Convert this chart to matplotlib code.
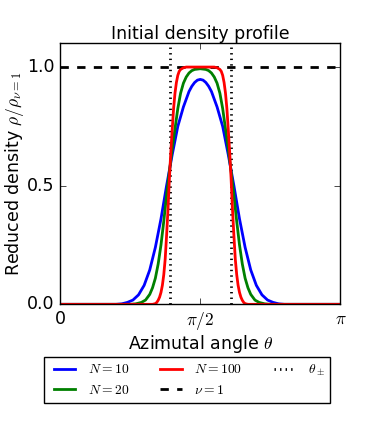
import numpy as np
import matplotlib
matplotlib.use('Agg')
import matplotlib.pyplot as plt

plt.style.use('classic')

# Density profiles, angle in units of pi
theta_n10 = [0.0, 0.20, 0.22, 0.24, 0.26, 0.28, 0.30, 0.32, 0.34, 0.36, 0.38, 0.40,
             0.42, 0.44, 0.46, 0.47, 0.48, 0.49, 0.50,
             0.51, 0.52, 0.53, 0.54, 0.56, 0.58, 0.60, 0.62, 0.64, 0.66, 0.68, 0.70,
             0.72, 0.74, 0.76, 0.78, 0.80, 1.0]
rho_n10 = [0.0, 0.0, 0.002, 0.008, 0.018, 0.040, 0.08, 0.145, 0.24, 0.36, 0.50, 0.63,
           0.75, 0.832, 0.897, 0.919, 0.935, 0.945, 0.948,
           0.945, 0.935, 0.919, 0.897, 0.832, 0.75, 0.63, 0.50, 0.36, 0.24, 0.145, 0.08,
           0.040, 0.018, 0.008, 0.002, 0.0, 0.0]

theta_n20 = [0.0, 0.25, 0.27, 0.29, 0.305, 0.32, 0.33, 0.34, 0.35, 0.36, 0.37, 0.38,
             0.39, 0.40, 0.41, 0.42, 0.43, 0.44, 0.45, 0.46, 0.47, 0.48, 0.50,
             0.52, 0.53, 0.54, 0.55, 0.56, 0.57, 0.58, 0.59, 0.60, 0.61, 0.62, 0.63,
             0.64, 0.65, 0.66, 0.67, 0.68, 0.695, 0.71, 0.73, 0.75, 1.0]
rho_n20 = [0.0, 0.0, 0.002, 0.008, 0.018, 0.042, 0.07, 0.11, 0.17, 0.25, 0.35, 0.46,
           0.56, 0.655, 0.74, 0.825, 0.89, 0.932, 0.958, 0.975, 0.985, 0.99, 0.993,
           0.99, 0.985, 0.975, 0.958, 0.932, 0.89, 0.825, 0.74, 0.655, 0.56, 0.46, 0.35,
           0.25, 0.17, 0.11, 0.07, 0.042, 0.018, 0.008, 0.002, 0.0, 0.0]

theta_n100 = [0.0, 0.33, 0.34, 0.345, 0.35, 0.355, 0.36, 0.365, 0.37, 0.375, 0.38,
              0.385, 0.39, 0.395, 0.40, 0.405, 0.41, 0.415, 0.42, 0.425, 0.43, 0.44,
              0.45, 0.50, 0.55, 0.56, 0.57, 0.575, 0.58, 0.585, 0.59, 0.595, 0.60,
              0.605, 0.61, 0.615, 0.62, 0.625, 0.63, 0.635, 0.64, 0.645, 0.65, 0.655,
              0.66, 0.67, 1.0]
rho_n100 = [0.0, 0.0, 0.003, 0.008, 0.017, 0.03, 0.05, 0.08, 0.125, 0.19, 0.29,
            0.40, 0.53, 0.64, 0.735, 0.825, 0.89, 0.935, 0.965, 0.982, 0.99, 0.997,
            1.0, 1.0, 1.0, 0.997, 0.99, 0.982, 0.965, 0.935, 0.89, 0.825, 0.735,
            0.64, 0.53, 0.40, 0.29, 0.19, 0.125, 0.08, 0.05, 0.03, 0.017, 0.008,
            0.003, 0.0, 0.0]

# theta_pm = arccos(-+1/3)
theta_pm = [0.392, 0.608]
nu1_level = 1.0

fs = 12.5

fig = plt.figure(figsize=(3.74, 4.36), dpi=100, facecolor='white')
ax = fig.add_axes([0.1604, 0.302, 0.75, 0.5986])

l10, = ax.plot(np.array(theta_n10) * np.pi, rho_n10, color='b', lw=2)
l20, = ax.plot(np.array(theta_n20) * np.pi, rho_n20, color='g', lw=2)
l100, = ax.plot(np.array(theta_n100) * np.pi, rho_n100, color='r', lw=2)
lnu = ax.axhline(nu1_level, color='k', ls='--', lw=2, zorder=1)
for t in theta_pm:
    lpm = ax.axvline(t * np.pi, color='k', ls=':', lw=2, zorder=1)

ax.set_xlim(0, np.pi)
ax.set_ylim(0, 1.1)
ax.set_xticks([0, np.pi / 2, np.pi])
ax.set_xticklabels(['0', r'$\pi/2$', r'$\pi$'])
ax.set_yticks([0, 0.5, 1.0])
ax.set_yticklabels(['0.0', '0.5', '1.0'])
ax.tick_params(labelsize=fs)

ax.set_title('Initial density profile', fontsize=fs, pad=3)
ax.set_xlabel(r'Azimutal angle $\theta$', fontsize=fs)
ax.xaxis.set_label_coords(0.5, -0.108)
ax.set_ylabel(r'Reduced density $\rho/\rho_{\nu=1}$', fontsize=fs)
ax.yaxis.set_label_coords(-0.122, 0.5)

fig.legend([l10, l20, l100, lnu, lpm],
           [r'$N=10$', r'$N=20$', r'$N=100$', r'$\nu=1$', r'$\theta_\pm$'],
           loc='upper center', bbox_to_anchor=(0.5, 1 - 357.0 / 436), ncol=3,
           fontsize=9.8, handlelength=2.2, handletextpad=0.6, columnspacing=2.0,
           borderaxespad=0, fancybox=False, numpoints=2)

fig.savefig('out.png', dpi=100, facecolor='white')
